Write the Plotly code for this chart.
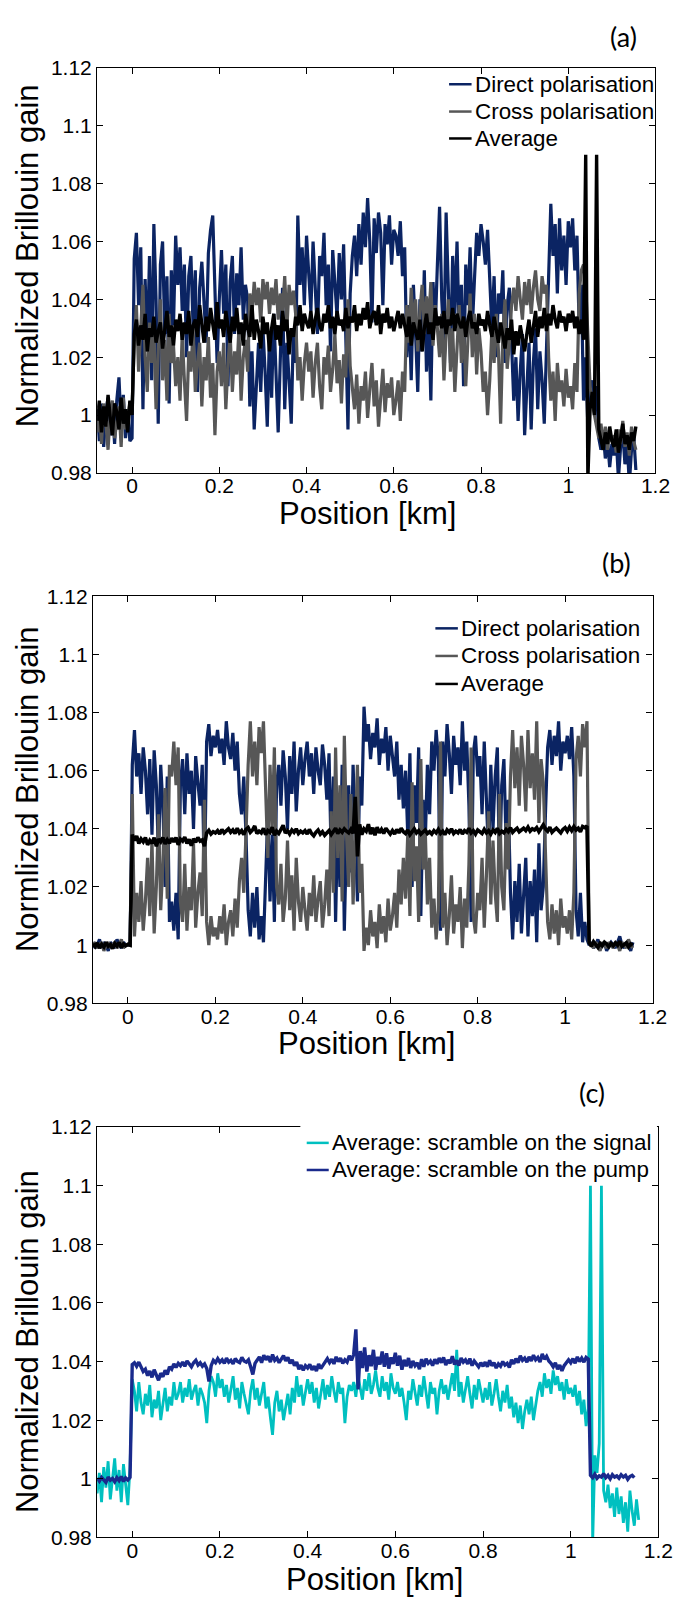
import plotly.graph_objects as go

# ---------------- data ----------------
# sampling grid along the fibre (km): start and step; values are (gain - 1) * 1000
X_START = -0.08
X_STEP = 0.005

# Panel (a)
A_DIRECT = ([2, -9, 4, -11, 1, 6, -7, 3, -10, 5, 13, -4, 7, -8, 2, -9] + [-8]
            + [54, 63, 38, 58, 2, 47, 22, 55, 12, 66, 40, -3, 52, 60, 28, 48, 4, 50, 31, 62]
            + [45, 58, 36, 52, 20, 48, 55, 30, 50, 8, 44, 53, 38, 25, 56, 64, 69, 47, 18, 40]
            + [57, 35, 52, 10, 46, 55, 28, 49, 38, 58, 33, 45, 40, 3, 22, -5, 12, 25, 8, 30]
            + [15, -4, 28, 6, 35, 10, -6, 20, 44, 2, 25, 12, -3, 30, 18, 69, 45, 58, 38, 62]
            + [50, 36, 60, 44, 28, 55, 48, 63, 38, 52, 22, 57, 46, 34, 56, 40, 59, 30, -5, 42]
            + [55, 62, 48, 66, 52, 70, 58, 75, 60, 32, 68, 56, 70, 63, 38, 66, 59, 69, 52, 64]
            + [62, 55, 67, 48, 58, 20, 38, 12, 45, 28, 8, 40, 22, 50, 15, 35, 5, 46, 30, 52]
            + [72, 40, 25, 70, 48, 18, 55, 35, 60, 28, 45, 10, 52, 38, 58, 30, 47, 63, 55, 66]
            + [60, 52, 64, 45, 30, 48, 20, 42, 35, 50, 18, 38, 44, 25, 5, 20, -2, 15, 28, -7]
            + [10, 25, -5, 18, 30, 2, 22, 12, -3, 26, 48, 73, 55, 66, 42, 68, 50, 62, 45, 67]
            + [58, 68, 50, 62, 30, 45, 5, 20, -4, 8, 12, 3, 10, -8, -12, -6, -15, -9, -18, -10]
            + [-14, -8, -22, -11, -6, -17, -9, -24, -12, -7, -19])
A_CROSS = ([-6, 2, -10, 4, -3, -12, 1, 5, -8, -2, 3, -11, 6, -5, 0, 4] + [2]
           + [25, 38, 15, 30, 45, 20, 8, 32, 18, 28, 2, 22, 40, 12, 26, 5, 35, 18, 24, 10]
           + [20, 5, 28, 12, -2, 22, 15, 30, 8, 18, 25, 3, 20, 12, 27, 6, 18, -7, 15, 22]
           + [10, 25, 2, 18, 28, 8, 22, 14, 30, 5, 20, 26, 15, 42, 35, 46, 38, 44, 32, 47]
           + [40, 46, 35, 44, 38, 47, 33, 42, 36, 48, 30, 45, 38, 43, 35, 12, 20, 5, 18, 25]
           + [15, 22, 6, 18, 25, 10, 2, 20, 14, 24, 8, 16, 28, 11, 19, 4, 21, 13, 40, 17]
           + [8, 2, 14, -3, 10, 5, 15, -1, 9, 18, 3, 12, -4, 7, 16, 1, 11, 6, 13, 0]
           + [5, 12, -2, 15, 8, 38, 25, 44, 30, 40, 22, 36, 45, 28, 41, 32, 46, 24, 38, 30]
           + [20, 35, 12, 28, 40, 15, 30, 8, 25, 38, 18, 33, 10, 27, 42, 20, 35, 14, 30, 22]
           + [8, 15, 0, 12, 30, 18, 35, 22, -3, 28, 40, 16, 25, 38, 44, 36, 48, 40, 33, 46]
           + [38, 47, 35, 44, 50, 40, 36, 48, 42, 45, 20, 5, 15, -2, 18, 8, 12, 3, 16, 6]
           + [10, 2, 18, 8, 42, 50, 52, 45, 30, 10, 4, 0, -5, -8, -3, -10, -4, -12, -6, -9]
           + [-7, -13, -5, -10, -2, -11, -6, -14, -4, -9, -12])
A_AVG = ([-2, 5, -6, 3, -4, 7, -1, -7, 4, 1, -5, 6, -3, 2, -6, 5] + [0]
         + [28, 33, 24, 31, 26, 35, 22, 30, 27, 34, 25, 29, 32, 23, 30, 36, 27, 31, 24, 33]
         + [29, 35, 26, 32, 28, 36, 24, 31, 33, 27, 38, 30, 25, 34, 29, 37, 31, 26, 39, 30]
         + [33, 27, 36, 30, 25, 34, 29, 37, 28, 32, 24, 35, 30, 27, 38, 26, 33, 29, 23, 34]
         + [28, 32, 22, 30, 35, 26, 31, 24, 36, 29, 33, 21, 30, 27, 34, 31, 38, 29, 35, 32]
         + [30, 36, 28, 33, 37, 31, 29, 35, 32, 38, 30, 34, 28, 36, 31, 33, 29, 37, 30, 34]
         + [32, 38, 29, 35, 31, 37, 33, 39, 30, 34, 36, 31, 38, 28, 35, 32, 37, 30, 34, 29]
         + [33, 36, 30, 35, 31, 27, 34, 24, 32, 29, 26, 33, 22, 30, 35, 28, 32, 26, 37, 31]
         + [34, 30, 36, 28, 33, 31, 37, 29, 35, 32, 30, 34, 27, 33, 36, 30, 32, 28, 35, 31]
         + [33, 29, 36, 31, 27, 34, 30, 25, 32, 28, 23, 30, 26, 33, 21, 29, 24, 31, 27, 22]
         + [28, 33, 25, 31, 36, 27, 34, 30, 37, 29, 35, 31, 38, 33, 30, 36, 32, 34, 29, 35]
         + [32, 36, 30, 34, 28, 33, 26, 90, -22, 2, 8, 0, 90, -5, -8, -12, -6, -10, -4, -9]
         + [-11, -5, -13, -8, -3, -10, -7, -12, -6, -9, -4])

# Panel (b)
B_DIRECT = ([1, -1, 0, 2, -1, 1, 0, -2, 1, 0, -1, 2, 0, -1, 1, 0] + [0]
            + [0, 62, 74, 58, 66, 52, 68, 60, 45, 64, 38, 67, 55, 30, 62, 48, 20, 58, 8, 15]
            + [5, 18, 2, 55, 64, 45, 66, 52, 60, 40, 65, 56, 48, 62, 20, 70, 76, 65, 72, 68]
            + [74, 66, 71, 62, 77, 68, 64, 73, 60, 70, 52, 45, 58, 38, 12, 3, 18, 6, 20, 2]
            + [10, 1, 25, 45, 15, 38, 8, 55, 62, 48, 67, 58, 40, 65, 52, 70, 46, 60, 68, 55]
            + [64, 70, 58, 66, 52, 68, 60, 55, 69, 62, 50, 66, 30, 58, 8, 45, 20, 62, 5, 38]
            + [55, 25, 62, 40, 15, 58, 48, 82, 70, 76, 64, 73, 68, 78, 62, 71, 66, 75, 60, 72]
            + [66, 58, 70, 50, 62, 47, 60, 38, 66, 20, 55, 42, 68, 10, 50, 35, 62, 45, 70, 60]
            + [74, 64, 5, 70, 58, 76, 66, 52, 72, 62, 68, 55, 77, 60, 70, 48, 8, 66, 72, 58]
            + [65, 45, 70, 52, 30, 62, 40, 58, 68, 25, 55, 64, 35, 50, 18, 2, 22, 8, 28, 4]
            + [15, 30, 3, 22, 10, 26, 1, 35, 12, 20, 45, 68, 74, 62, 72, 65, 77, 60, 70, 66]
            + [72, 64, 75, 58, 12, 3, 18, 1, 8, 2, 0, 1, -1, 0, 2, -1, 0, 1, -2, 0]
            + [1, 0, -1, 1, 3, 0, -1, 1, 0, -2, 1])
B_CROSS = ([0, 1, -1, 0, 1, -2, 0, 1, -1, 0, 1, -1, 0, 2, -1, 0] + [0]
           + [0, 52, 3, 18, 8, 22, 5, 15, 30, 10, 36, 4, 20, 45, 12, 28, 54, 16, 62, 58]
           + [70, 55, 68, 15, 8, 28, 5, 20, 12, 35, 6, 18, 25, 10, 50, 8, 0, 10, 3, 6]
           + [2, 10, 4, 14, 0, 8, 12, 3, 16, 6, 22, 30, 18, 38, 62, 77, 58, 70, 55, 75]
           + [66, 77, 50, 30, 62, 40, 68, 20, 14, 28, 8, 16, 36, 12, 24, 5, 30, 15, 8, 20]
           + [12, 5, 18, 10, 24, 8, 16, 22, 6, 14, 26, 10, 46, 18, 68, 30, 55, 15, 72, 38]
           + [20, 52, 14, 36, 62, 18, 28, -2, 6, 0, 12, 3, 8, -1, 14, 4, 10, 1, 16, 5]
           + [10, 18, 6, 26, 14, 30, 16, 38, 10, 56, 22, 34, 8, 64, 26, 40, 14, 30, 6, 16]
           + [2, 12, 70, 6, 18, 0, 10, 24, 4, 14, 8, 20, -1, 16, 6, 28, 68, 10, 4, 18]
           + [12, 30, 6, 24, 46, 14, 36, 18, 8, 52, 20, 12, 42, 26, 58, 74, 54, 68, 48, 72]
           + [62, 46, 74, 54, 66, 50, 77, 42, 64, 56, 30, 8, 2, 14, 4, 12, 0, 16, 6, 10]
           + [4, 12, 2, 18, 64, 72, 58, 76, 68, 77, 1, 0, -1, 1, 0, -2, 1, 0, -1, 1]
           + [0, -1, 1, 0, -2, 1, 0, -1, 2, 0, -1])
B_AVG = ([0.5, -0.5, 0.8, -1, 0.3, -0.6, 1, -0.4, 0.2, -1.2, 0.6, -0.3, 0.9, -0.8, 0.4, -0.2] + [0.3]
         + [0, 38, 36, 37.5, 35, 36.5, 35.5, 37, 34.5, 36, 35, 37, 34, 36.5, 35.5, 37, 34.8, 36.2, 35, 36.8]
         + [35.5, 37, 34.5, 36.5, 35.8, 37.2, 35, 36.4, 34.2, 36.6, 35.4, 37, 35.8, 36.2, 34, 38.6, 39.5, 38.2, 39, 38.6]
         + [39.4, 38.2, 39.8, 38.6, 39.2, 40, 38.8, 39.6, 38.4, 40.2, 38.6, 39.4, 38, 39.8, 40.4, 38.8, 39.6, 41, 38.4, 39.2]
         + [38.6, 40.2, 38, 39.4, 38.8, 40.6, 37.8, 39.2, 38.4, 39.8, 41.2, 38.6, 39.4, 38.2, 39.6, 38.8, 40, 38.4, 39.2, 38.6]
         + [39.4, 38.2, 39.8, 38.4, 37.6, 38.8, 39.6, 38.2, 39, 37.8, 38.6, 39.4, 38, 39.2, 40.2, 38.4, 39.6, 38.8, 40, 39.2]
         + [38.6, 39.8, 38.4, 51, 30.5, 41.5, 38, 40, 39.2, 41.6, 38.2, 40.4, 37.8, 40.6, 38.6, 39.8, 38.4, 40.2, 39, 38.2]
         + [39.4, 38.2, 39.8, 38.6, 40.2, 39, 38.4, 39.6, 38, 39.2, 40, 38.6, 39.4, 38.2, 38.8, 39.6, 38.4, 39, 38.2, 39.4]
         + [38.6, 39.8, 38.4, 39.2, 38, 39.6, 38.8, 40, 38.4, 39.2, 38.6, 39.8, 38.2, 39.4, 38.8, 40.2, 38.6, 39.4, 38.2, 39.6]
         + [39, 38.4, 39.8, 38.6, 39.4, 38.2, 39.6, 38.8, 40.2, 38.4, 39.2, 38.6, 39.8, 39, 40.4, 38.8, 39.6, 40.2, 39, 39.8]
         + [40.2, 39.4, 40.6, 39.2, 40, 39.6, 40.4, 39, 40.2, 41.4, 40, 39.2, 40.6, 38.8, 39.6, 40.2, 39.4, 38.6, 39.8, 40.4]
         + [39.2, 40.6, 39.4, 40.8, 39.6, 40.2, 39, 40.8, 40.4, 41, 0.8, -0.4, 1.2, 0.2, -0.8, 0.6, -0.2, 1, 0.4, -0.6]
         + [0.6, -0.2, 0.8, 0, 1.4, -0.4, 0.2, 0.8, -0.6, 0.4, 0])

# Panel (c)
C_SIGNAL = ([-5, 2, -8, 4, -3, 6, -7, 1, 7, -4, 3, -8, 5, -2, -9, 4] + [34]
            + [30, 23, 33, 26, 22, 29, 25, 32, 21, 27, 24, 30, 20, 26, 31, 23, 28, 25, 33, 27]
            + [29, 33, 26, 31, 28, 34, 27, 30, 32, 25, 31, 29, 26, 19, 30, 35, 33, 28, 36, 31]
            + [34, 28, 32, 26, 30, 35, 27, 31, 24, 33, 29, 26, 22, 30, 34, 27, 31, 25, 29, 33]
            + [24, 28, 21, 15, 26, 30, 23, 27, 20, 25, 29, 22, 31, 26, 35, 28, 32, 25, 30, 34]
            + [29, 33, 26, 31, 24, 30, 34, 27, 32, 28, 35, 30, 26, 33, 29, 31, 19, 28, 32, 30]
            + [33, 28, 35, 31, 27, 34, 30, 36, 29, 32, 37, 31, 28, 35, 30, 33, 27, 36, 31, 29]
            + [33, 28, 31, 26, 20, 30, 27, 34, 29, 25, 32, 28, 35, 30, 24, 33, 29, 31, 22, 30]
            + [34, 29, 32, 27, 31, 36, 30, 44, 28, 33, 26, 31, 35, 29, 24, 32, 27, 34, 30, 26]
            + [31, 27, 33, 25, 29, 34, 28, 23, 30, 26, 32, 24, 28, 21, 26, 19, 25, 17, 23, 27]
            + [22, 28, 20, 25, 30, 33, 28, 36, 31, 34, 29, 37, 32, 35, 30, 33, 27, 34, 29, 31]
            + [28, 32, 25, 30, 22, 27, 18, 24, 100, -22, 8, 2, 12, 100, -4, -8, -2, -10, -5, -13]
            + [-3, -12, -6, -15, -8, -18, -4, -11, -16, -7, -14])
C_PUMP = ([0.2, -0.8, 0.5, -0.3, -1.2, 0.6, -0.5, 0.1, -1, 0.4, -0.6, 0.8, -0.9, 0.3, -0.4, 0.5] + [39]
          + [39.6, 38.4, 39.8, 38, 36.6, 37.4, 35.2, 36.8, 34.6, 37.2, 35.4, 33.6, 36, 34.8, 37, 35.6, 38.2, 37.4, 39.2, 38]
          + [39.4, 38.6, 39.8, 38.4, 40.2, 39, 38.2, 39.6, 40.4, 38.8, 39.6, 38.4, 39.2, 37.6, 33.2, 38.6, 40.4, 39.6, 41, 39.8]
          + [40.6, 39.4, 41.2, 39.8, 40.4, 39.2, 41, 40, 39.6, 41.4, 40.2, 39.8, 40.6, 38.2, 35.6, 39.4, 40.8, 41.6, 39.6, 42.2]
          + [40.6, 41.8, 39.8, 42.4, 40.4, 41.2, 39.6, 40.8, 42, 40.2, 41.4, 39.4, 40.6, 38.6, 39.8, 37.4, 38.8, 37, 38.6, 37.8]
          + [39, 37.2, 38.4, 36.8, 39.2, 37.6, 38.8, 39.8, 41, 39.6, 40.8, 39.2, 41.6, 40, 41.2, 39.4, 40.6, 39.8, 42, 40.4]
          + [42.4, 51, 30.5, 43.6, 37.8, 44.8, 36.6, 42.2, 38.4, 44, 37.2, 41.6, 39, 43.4, 38.2, 42.8, 37.6, 41.4, 39.2, 43]
          + [38.6, 42, 37.2, 40.6, 38.4, 41.2, 37.8, 40.2, 38.6, 39.6, 37.4, 40.8, 38.2, 41, 39.4, 40.2, 38.6, 40.8, 39.2, 41.2]
          + [39.6, 41.4, 38.8, 40.6, 39.4, 41.8, 39, 40.4, 38.6, 41.2, 39.8, 40.6, 39.2, 41, 38.6, 40.2, 39.4, 38.2, 39.6, 38.4]
          + [39.8, 38.2, 40.4, 38.6, 39.6, 37.8, 39.2, 38.4, 40, 38.8, 39.4, 38, 40.6, 39.2, 41, 39.6, 42, 40.4, 41.2, 39.8]
          + [41.6, 40.2, 42.2, 40.6, 41.4, 39.8, 42.6, 40.8, 41.8, 40.2, 39.4, 38.2, 39.6, 37.4, 38.8, 36.8, 38.6, 39.8, 40.6, 39.6]
          + [41, 39.4, 41.6, 40, 41.2, 39.8, 41.4, 40.8, 1.2, 0.4, 1.6, 0.2, 1, 0.6, 1.8, 0.4, 1.2, 0, 1.4, 0.6]
          + [1, 0.2, 1.4, 0.6, 1.2, -0.2, 0.8, 1.2, 0.4])

X_TICKS = [0, 0.2, 0.4, 0.6, 0.8, 1.0, 1.2]
Y_TICKS = [0.98, 1.0, 1.02, 1.04, 1.06, 1.08, 1.1, 1.12]

NAMES_AB = ["Direct polarisation", "Cross polarisation", "Average"]
NAMES_C = ["Average: scramble on the signal", "Average: scramble on the pump"]
PANEL_TAGS = ["(a)", "(b)", "(c)"]
Y_TITLES = ["Normalized Brillouin gain", "Normlized Brillouin gain", "Normalized Brillouin gain"]
X_TITLE = "Position [km]"

# ---------------- styling / layout ----------------
W, H = 693, 1607
NAVY = "#0b2463"
GREY = "#575757"
BLACK = "#000000"
CYAN = "#00c0c0"
PUMP = "#1a2a8c"
FONT = "Liberation Sans, Arial, sans-serif"


def positions(vals):
    return [round(X_START + X_STEP * i, 4) for i in range(len(vals))]


def gain(vals):
    return [1 + v / 1000.0 for v in vals]


def px(x):
    return x / W


def py(y):
    return 1 - y / H


# plot-area boxes in pixels: left, right, top, bottom
BOXES = [(99.3, 670, 56.7, 467.6), (95, 667, 592.7, 1005.7), (99.3, 673, 1131.2, 1547.6)]

fig = go.Figure()
series = [
    (1, [(A_DIRECT, NAVY, 3.2), (A_CROSS, GREY, 3.2), (A_AVG, BLACK, 3.4)], NAMES_AB),
    (2, [(B_DIRECT, NAVY, 3.2), (B_CROSS, GREY, 3.2), (B_AVG, BLACK, 3.6)], NAMES_AB),
    (3, [(C_SIGNAL, CYAN, 2.8), (C_PUMP, PUMP, 3.4)], NAMES_C),
]
for k, lst, names in series:
    sfx = "" if k == 1 else str(k)
    for (vals, col, lw), nm in zip(lst, names):
        fig.add_trace(go.Scatter(x=positions(vals), y=gain(vals), mode="lines", name=nm,
                                 line=dict(color=col, width=lw), showlegend=False,
                                 xaxis="x" + sfx, yaxis="y" + sfx))

axis_common = dict(showline=True, linecolor="black", linewidth=1.3, mirror="ticks",
                   ticks="inside", ticklen=6, tickwidth=1.2, tickcolor="black",
                   showgrid=False, zeroline=False,
                   tickfont=dict(family=FONT, size=21, color="black"))
layout = dict(width=W, height=H, margin=dict(l=0, r=0, t=0, b=0),
              paper_bgcolor="white", plot_bgcolor="white", showlegend=False)
for k, (l, r, t, b) in enumerate(BOXES, start=1):
    sfx = "" if k == 1 else str(k)
    layout["xaxis" + sfx] = dict(axis_common, domain=[px(l), px(r)], range=[-0.08, 1.2],
                                 tickvals=X_TICKS, anchor="y" + sfx, ticklabelstandoff=-6)
    layout["yaxis" + sfx] = dict(axis_common, domain=[py(b), py(t)], range=[0.98, 1.12],
                                 tickvals=Y_TICKS, anchor="x" + sfx)
fig.update_layout(**layout)

ann = []
shapes = []
# panel tags
for tag, (x, y) in zip(PANEL_TAGS, [(637, 25), (630, 559), (605, 1096)]):
    ann.append(dict(text=tag, x=px(x), y=py(y), xref="paper", yref="paper", showarrow=False,
                    xanchor="center", yanchor="middle", font=dict(family="Lato, Open Sans", size=27, color="black")))
# axis titles
for (x, y) in [(376, 509), (375, 1046), (383, 1590)]:
    ann.append(dict(text=X_TITLE, x=px(x), y=py(y), xref="paper", yref="paper", showarrow=False,
                    xanchor="center", yanchor="middle", font=dict(family=FONT, size=31, color="black")))
for txt, (x, y) in zip(Y_TITLES, [(29, 247.5), (28, 788), (28, 1349)]):
    ann.append(dict(text=txt, x=px(x), y=py(y), xref="paper", yref="paper", showarrow=False, textangle=-90,
                    xanchor="center", yanchor="middle", font=dict(family=FONT, size=31, color="black")))

# legend of panel (c) sits on a white box that hides the top frame
shapes.append(dict(type="rect", xref="paper", yref="paper", x0=px(307), x1=px(671.5), y0=py(1189), y1=py(1129),
                   fillcolor="white", line=dict(width=0), layer="above"))

legends = [
    (NAMES_AB, [NAVY, GREY, BLACK], 459, 482, 483, [73.3, 101, 128.3]),
    (NAMES_AB, [NAVY, GREY, BLACK], 445, 468, 469, [625.3, 653.3, 681.7]),
    (NAMES_C, [CYAN, PUMP], 313.5, 336, 337.5, [1147.3, 1174.8]),
]
for names, cols, s0, s1, tx, ys in legends:
    for nm, col, y in zip(names, cols, ys):
        shapes.append(dict(type="line", xref="paper", yref="paper", x0=px(s0), x1=px(s1), y0=py(y), y1=py(y),
                           line=dict(color=col, width=2.5), layer="above"))
        ann.append(dict(text=nm, x=px(tx), y=py(y), xref="paper", yref="paper", showarrow=False,
                        xanchor="left", yanchor="middle", font=dict(family=FONT, size=22.4, color="black")))

fig.update_layout(annotations=ann, shapes=shapes)
fig.write_html("out.html", post_script="document.body.style.margin='0';")
